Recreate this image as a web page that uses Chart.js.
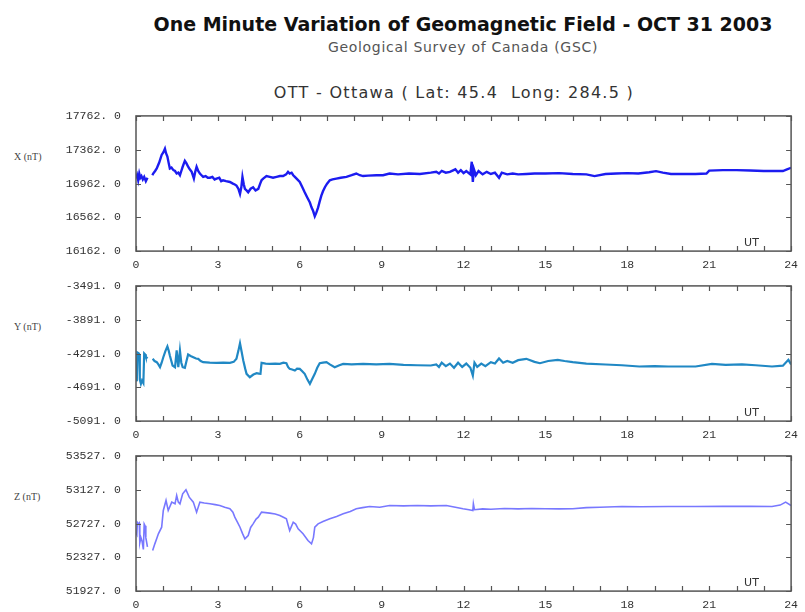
<!DOCTYPE html>
<html>
<head>
<meta charset="utf-8">
<script src="https://cdn.jsdelivr.net/npm/chart.js@4/dist/chart.umd.min.js"></script>
<style>
  html, body { margin: 0; padding: 0; background: #fff; }
  body { width: 805px; height: 612px; position: relative; overflow: hidden; }
  .txt { position: absolute; white-space: nowrap; }
  #title { left: 0; width: 926px; text-align: center; top: 13px; font: bold 19px "DejaVu Sans", sans-serif; color: #111; }
  #sub { left: 0; width: 926px; text-align: center; top: 39px; font: 14px "DejaVu Sans", sans-serif; letter-spacing: 0.7px; color: #555; }
  #station { left: 0; width: 908px; text-align: center; top: 83px; font: 16px "DejaVu Sans", sans-serif; letter-spacing: 1.3px; color: #333; }
  .ylab { left: 14px; font: 10px "Liberation Serif", serif; color: #444; }
  canvas { position: absolute; left: 0; }
</style>
</head>
<body>
<div class="txt" id="title">One Minute Variation of Geomagnetic Field - OCT 31 2003</div>
<div class="txt" id="sub">Geological Survey of Canada (GSC)</div>
<div class="txt" id="station">OTT - Ottawa ( Lat: 45.4&nbsp; Long: 284.5 )</div>
<div class="txt ylab" style="top:151px">X (nT)</div>
<div class="txt ylab" style="top:321px">Y (nT)</div>
<div class="txt ylab" style="top:491px">Z (nT)</div>
<canvas id="cX" width="805" height="179" style="top:94px"></canvas>
<canvas id="cY" width="805" height="179" style="top:264px"></canvas>
<canvas id="cZ" width="805" height="179" style="top:434px"></canvas>
<script>
// ---- Tick labels / axis ranges ----
const xTickLabels = [0, 3, 6, 9, 12, 15, 18, 21, 24];
const yTicksX = [16162, 16562, 16962, 17362, 17762];
const yTicksY = [-5091, -4691, -4291, -3891, -3491];
const yTicksZ = [51927, 52327, 52727, 53127, 53527];

// ---- X component (nT), hours UT ----
const xHours = [0.00,0.04,0.08,0.12,0.16,0.20,0.25,0.30,0.36,0.42,0.45,0.60,0.63,0.70,0.76,0.85,0.94,1.00,1.06,1.10,1.15,1.20,1.24,1.30,1.37,1.43,1.49,1.55,1.61,1.66,1.71,1.79,1.85,1.91,1.97,2.04,2.08,2.12,2.17,2.22,2.28,2.34,2.40,2.46,2.55,2.63,2.71,2.80,2.88,2.95,3.05,3.12,3.19,3.30,3.44,3.55,3.62,3.68,3.75,3.81,3.86,3.90,3.95,3.99,4.05,4.11,4.20,4.29,4.38,4.48,4.55,4.60,4.66,4.78,4.90,5.02,5.15,5.27,5.39,5.50,5.57,5.63,5.70,5.76,5.82,5.91,6.00,6.09,6.18,6.27,6.37,6.43,6.49,6.55,6.61,6.67,6.73,6.79,6.85,6.92,7.00,7.10,7.20,7.34,7.50,7.71,7.90,8.07,8.20,8.32,8.50,8.81,9.05,9.29,9.6,10.0,10.4,10.8,11.0,11.1,11.2,11.35,11.5,11.7,11.8,11.9,12.0,12.1,12.25,12.3,12.34,12.38,12.45,12.55,12.7,12.85,13.0,13.15,13.3,13.4,13.6,13.8,14.0,14.3,14.6,15.0,15.5,16.0,16.5,16.8,17.2,17.6,18.0,18.4,18.8,19.05,19.3,19.6,20.0,20.5,20.9,21.0,21.5,22.0,22.5,23.0,23.5,23.7,23.85,24.0];
const xValues = [17020,17060,17000,17080,17030,17050,17010,17040,16990,17030,null,17060,17080,17110,17140,17210,17300,17330,17374,17320,17281,17200,17140,17150,17120,17110,17080,17090,17060,17110,17160,17229,17200,17160,17130,17100,17060,17020,17100,17160,17110,17080,17060,17040,17050,17030,17030,17040,17010,17020,17030,16990,17000,16990,16980,16960,16950,16938,16900,16838,16920,17040,16950,16898,16880,16858,16900,16918,16880,16898,16960,17000,17020,17050,17040,17030,17040,17050,17050,17070,17100,17080,17090,17060,17040,17010,16980,16920,16858,16800,16737,16680,16636,16575,16620,16676,16750,16818,16870,16918,16960,17000,17010,17020,17030,17040,17060,17080,17060,17050,17055,17060,17060,17080,17070,17080,17075,17090,17100,17080,17110,17090,17100,17130,17090,17120,17085,17110,17070,17220,16980,17130,17060,17110,17070,17100,17075,17090,17030,17090,17070,17080,17070,17075,17080,17080,17085,17075,17070,17050,17075,17080,17085,17080,17095,17108,17090,17075,17075,17075,17080,17115,17120,17120,17115,17110,17110,17110,17130,17148];

// ---- Y component (nT) ----
const yHours = [0.00,0.03,0.05,0.10,0.12,0.14,0.18,0.22,0.27,0.30,0.33,0.36,0.42,0.45,0.61,0.68,0.76,0.82,0.88,0.94,1.00,1.08,1.15,1.20,1.24,1.34,1.43,1.49,1.55,1.61,1.66,1.71,1.79,1.85,1.91,2.00,2.10,2.20,2.28,2.37,2.46,2.70,2.95,3.20,3.44,3.58,3.68,3.75,3.81,3.87,3.93,4.00,4.05,4.17,4.30,4.42,4.50,4.56,4.60,4.75,4.90,5.10,5.27,5.40,5.51,5.57,5.63,5.72,5.82,5.90,6.00,6.09,6.18,6.28,6.37,6.46,6.55,6.64,6.73,6.85,6.98,7.10,7.28,7.45,7.59,7.9,8.32,8.8,9.29,9.8,10.3,10.8,11.0,11.1,11.2,11.35,11.5,11.65,11.8,11.95,12.1,12.25,12.34,12.4,12.5,12.65,12.8,13.0,13.15,13.3,13.45,13.6,13.8,14.0,14.3,14.6,14.8,15.1,15.45,15.7,16.0,16.5,17.2,17.8,18.44,19.0,19.5,20.0,20.5,21.1,21.6,22.2,22.7,23.3,23.7,23.9,24.0];
const yValues = [-4560,-4620,-4280,-4290,-4300,-4600,-4650,-4610,-4640,-4290,-4300,-4330,-4350,null,-4354,-4380,-4394,-4420,-4453,-4400,-4335,-4260,-4208,-4260,-4315,-4433,-4453,-4255,-4453,-4255,-4400,-4453,-4460,-4380,-4303,-4320,-4335,-4350,-4354,-4380,-4394,-4400,-4402,-4400,-4402,-4390,-4354,-4260,-4169,-4270,-4374,-4470,-4532,-4572,-4540,-4524,-4530,-4532,-4402,-4410,-4414,-4410,-4414,-4400,-4406,-4450,-4473,-4480,-4492,-4470,-4473,-4500,-4532,-4600,-4650,-4590,-4532,-4460,-4406,-4400,-4394,-4420,-4453,-4430,-4414,-4420,-4414,-4420,-4414,-4425,-4430,-4433,-4420,-4450,-4400,-4440,-4410,-4460,-4400,-4450,-4410,-4460,-4552,-4400,-4450,-4410,-4440,-4394,-4410,-4350,-4400,-4380,-4400,-4370,-4354,-4390,-4406,-4380,-4366,-4380,-4394,-4410,-4421,-4430,-4445,-4440,-4445,-4445,-4445,-4414,-4425,-4420,-4430,-4445,-4435,-4366,-4420];

// ---- Z component (nT) ----
const zHours = [0.00,0.03,0.05,0.10,0.12,0.14,0.18,0.22,0.27,0.30,0.33,0.36,0.42,0.45,0.61,0.69,0.76,0.82,0.94,1.00,1.10,1.18,1.31,1.43,1.49,1.55,1.61,1.71,1.83,1.95,2.10,2.22,2.34,2.50,2.71,2.90,3.07,3.25,3.44,3.55,3.62,3.72,3.81,3.90,3.99,4.11,4.20,4.29,4.40,4.48,4.60,4.90,5.10,5.27,5.40,5.51,5.58,5.63,5.76,5.85,5.94,6.12,6.30,6.43,6.50,6.55,6.67,6.85,7.10,7.35,7.59,7.85,8.07,8.30,8.56,8.93,9.29,9.8,10.3,10.8,11.37,11.7,11.98,12.2,12.34,12.36,12.4,12.7,13.0,13.5,14.0,14.5,15.0,15.5,16.0,16.5,17.0,17.8,18.5,19.5,20.5,21.5,22.5,23.3,23.6,23.8,24.0];
const zValues = [52620,52600,52740,52720,52730,52500,52560,52520,52420,52720,52700,52560,52450,null,52407,52486,52550,52605,52683,52881,53000,52881,52980,52960,53059,52980,52960,53079,53127,53039,52980,52861,52980,52970,52960,52950,52940,52920,52901,52860,52802,52740,52683,52610,52546,52585,52680,52723,52780,52802,52861,52850,52840,52822,52800,52782,52700,52644,52742,52720,52664,52605,52526,52486,52560,52683,52723,52750,52782,52810,52841,52870,52901,52915,52928,52920,52940,52935,52940,52935,52940,52920,52901,52890,52880,52960,52890,52900,52895,52905,52900,52905,52901,52900,52901,52915,52920,52928,52925,52928,52928,52930,52930,52928,52945,52980,52940];

const TICK_FONT = { family: '"Liberation Mono", monospace', size: 11.5 };
const TICK_COLOR = '#333';

const boxPlugin = {
  id: 'box',
  afterDraw(chart) {
    const ctx = chart.ctx, a = chart.chartArea;
    const xs = chart.scales.x, ys = chart.scales.y;
    ctx.save();
    ctx.strokeStyle = '#555';
    ctx.lineWidth = 1.5;
    ctx.strokeRect(a.left, a.top, a.right - a.left, a.bottom - a.top);
    ctx.lineWidth = 1.2;
    ctx.beginPath();
    xs.ticks.forEach(t => {
      const px = Math.round(xs.getPixelForValue(t.value)) + 0.5;
      ctx.moveTo(px, a.bottom); ctx.lineTo(px, a.bottom - 5);
      ctx.moveTo(px, a.top); ctx.lineTo(px, a.top + 5);
    });
    ys.ticks.forEach(t => {
      const py = Math.round(ys.getPixelForValue(t.value)) + 0.5;
      ctx.moveTo(a.left, py); ctx.lineTo(a.left + 5, py);
      ctx.moveTo(a.right, py); ctx.lineTo(a.right - 5, py);
    });
    ctx.stroke();
    ctx.fillStyle = '#333';
    ctx.font = '11px "DejaVu Sans", sans-serif';
    ctx.textBaseline = 'middle';
    ctx.fillText('UT', a.right - 47, a.bottom - 8);
    ctx.restore();
  }
};

function makeChart(id, hours, values, yTicks, color, lw) {
  const pts = hours.map((h, i) => ({ x: h, y: values[i] }));
  return new Chart(document.getElementById(id), {
    type: 'line',
    data: { datasets: [{ data: pts, borderColor: color, borderWidth: lw, pointRadius: 0, tension: 0, spanGaps: false, fill: false }] },
    options: {
      responsive: false, animation: false, events: [],
      layout: { padding: { top: 9, right: 9, left: 0, bottom: 0 } },
      plugins: { legend: { display: false }, tooltip: { enabled: false }, title: { display: false } },
      scales: {
        x: {
          type: 'linear', min: xTickLabels[0], max: xTickLabels[xTickLabels.length - 1],
          ticks: { stepSize: 1, autoSkip: false, maxRotation: 0, padding: 7, font: TICK_FONT, color: TICK_COLOR,
                   callback: v => xTickLabels.includes(v) ? String(v) : '' },
          grid: { display: false, drawTicks: false }, border: { display: false },
          afterFit: s => { s.height = 20; }
        },
        y: {
          min: yTicks[0], max: yTicks[yTicks.length - 1],
          ticks: { stepSize: yTicks[1] - yTicks[0], padding: 15, font: TICK_FONT, color: TICK_COLOR,
                   callback: v => v.toFixed(1).replace('.', '. ') },
          grid: { display: false, drawTicks: false }, border: { display: false },
          afterFit: s => { s.width = 136; }
        }
      }
    },
    plugins: [boxPlugin]
  });
}

makeChart('cX', xHours, xValues, yTicksX, '#1c1cf0', 2.4);
makeChart('cY', yHours, yValues, yTicksY, '#2088c4', 2.2);
makeChart('cZ', zHours, zValues, yTicksZ, '#7878ff', 1.6);
</script>
</body>
</html>
